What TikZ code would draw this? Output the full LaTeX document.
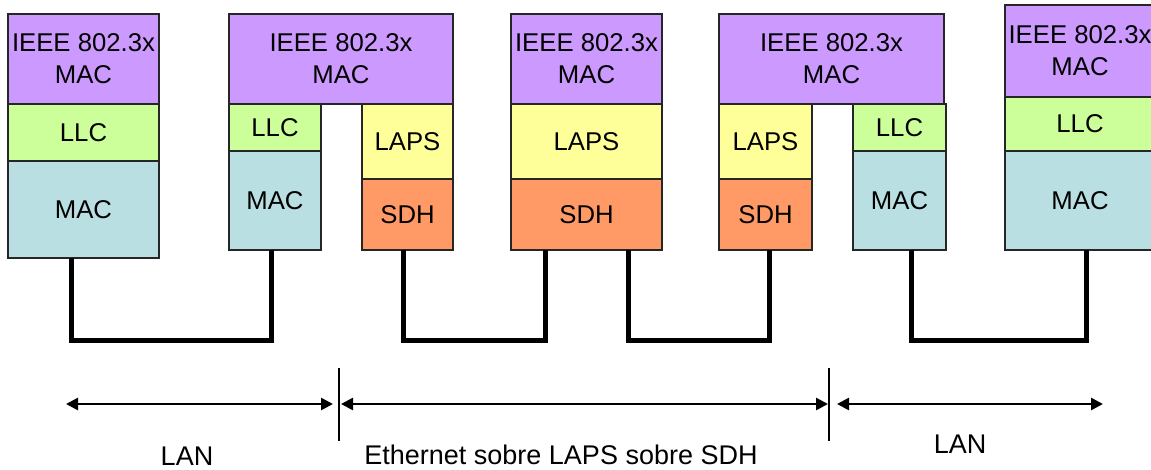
\documentclass[tikz,border=0pt]{standalone}
\usepackage{fontspec}
\setmainfont{Liberation Sans}
\usetikzlibrary{arrows.meta}
\definecolor{cPurple}{HTML}{CC99FF}
\definecolor{cLLC}{HTML}{CCFF99}
\definecolor{cMAC}{HTML}{B9DFE3}
\definecolor{cLAPS}{HTML}{FFFF99}
\definecolor{cSDH}{HTML}{FF9966}
\begin{document}
\begin{tikzpicture}[x=1pt,y=-1pt,
  layer/.style={draw=black!85, line width=1.3pt, inner sep=0pt, outer sep=0pt,
    anchor=north west, align=center, text=black,
    font=\fontsize{25.7}{32}\selectfont},
  wire/.style={line width=5pt, line join=miter},
  span/.style={line width=2.6pt, {Triangle[length=12pt,width=12pt]}-{Triangle[length=12pt,width=12pt]}},
  sepline/.style={line width=1.6pt},
  lbl/.style={font=\fontsize{27}{32}\selectfont, inner sep=0pt}]
\useasboundingbox (0,0) rectangle (1151,469);
\clip (0,0) rectangle (1151,469);

% Stack 1
\node[layer, fill=cPurple, minimum width=151, minimum height=90] (ieee1) at (8,14) {IEEE 802.3x\\MAC};
\node[layer, fill=cLLC, minimum width=151, minimum height=57] (llc1) at (8,104) {LLC};
\node[layer, fill=cMAC, minimum width=151, minimum height=97] (mac1) at (8,161) {MAC};

% Stack 2
\node[layer, fill=cPurple, minimum width=224, minimum height=90] (ieee2) at (229,14) {IEEE 802.3x\\MAC};
\node[layer, fill=cLLC, minimum width=92, minimum height=47] (llc2) at (229,104) {LLC};
\node[layer, fill=cMAC, minimum width=92, minimum height=99] (mac2) at (229,151) {MAC};
\node[layer, fill=cLAPS, minimum width=91, minimum height=75] (laps2) at (362,104) {LAPS};
\node[layer, fill=cSDH, minimum width=91, minimum height=71] (sdh2) at (362,179) {SDH};

% Stack 3
\node[layer, fill=cPurple, minimum width=151, minimum height=90] (ieee3) at (511,14) {IEEE 802.3x\\MAC};
\node[layer, fill=cLAPS, minimum width=151, minimum height=75] (laps3) at (511,104) {LAPS};
\node[layer, fill=cSDH, minimum width=151, minimum height=71] (sdh3) at (511,179) {SDH};

% Stack 4
\node[layer, fill=cPurple, minimum width=225, minimum height=90] (ieee4) at (719,14) {IEEE 802.3x\\MAC};
\node[layer, fill=cLAPS, minimum width=93, minimum height=75] (laps4) at (719,104) {LAPS};
\node[layer, fill=cSDH, minimum width=93, minimum height=71] (sdh4) at (719,179) {SDH};
\node[layer, fill=cLLC, minimum width=93, minimum height=47] (llc4) at (853,104) {LLC};
\node[layer, fill=cMAC, minimum width=93, minimum height=99] (mac4) at (853,151) {MAC};

% Stack 5
\node[layer, fill=cPurple, minimum width=150, minimum height=92] (ieee5) at (1005,5) {IEEE 802.3x\\MAC};
\node[layer, fill=cLLC, minimum width=150, minimum height=54] (llc5) at (1005,97) {LLC};
\node[layer, fill=cMAC, minimum width=150, minimum height=99] (mac5) at (1005,151) {MAC};

% Wire end points
\coordinate (w1a) at ([xshift=-12.5pt]mac1.south);
\coordinate (w1b) at ([xshift=-4pt]mac2.south);
\coordinate (w2a) at ([xshift=-4.5pt]sdh2.south);
\coordinate (w2b) at ([xshift=-41.5pt]sdh3.south);
\coordinate (w3a) at ([xshift=41.5pt]sdh3.south);
\coordinate (w3b) at ([xshift=3.5pt]sdh4.south);
\coordinate (w4a) at ([xshift=11.5pt]mac4.south);
\coordinate (w4b) at ([xshift=6pt]mac5.south);

\draw[wire] (w1a) -- (w1a |- 0,340) -| (w1b);
\draw[wire] (w2a) -- (w2a |- 0,340) -| (w2b);
\draw[wire] (w3a) -- (w3a |- 0,340) -| (w3b);
\draw[wire] (w4a) -- (w4a |- 0,340) -| (w4b);

% Span arrows
\coordinate (a1l) at (66,404);
\coordinate (a1r) at (333,404);
\coordinate (a2l) at (341,404);
\coordinate (a2r) at (828,404);
\coordinate (a3l) at (837,404);
\coordinate (a3r) at (1103,404);
\draw[span] (a1l) -- (a1r);
\draw[span] (a2l) -- (a2r);
\draw[span] (a3l) -- (a3r);

% Separators
\coordinate (s1t) at (339,368);
\coordinate (s1b) at (339,441);
\coordinate (s2t) at (829,368);
\coordinate (s2b) at (829,441);
\draw[sepline] (s1t) -- (s1b);
\draw[sepline] (s2t) -- (s2b);

% Labels
\node[lbl] (lan1) at (187,456) {LAN};
\node[lbl] (eos) at (561,455) {Ethernet sobre LAPS sobre SDH};
\node[lbl] (lan2) at (960,444) {LAN};
\end{tikzpicture}
\end{document}
